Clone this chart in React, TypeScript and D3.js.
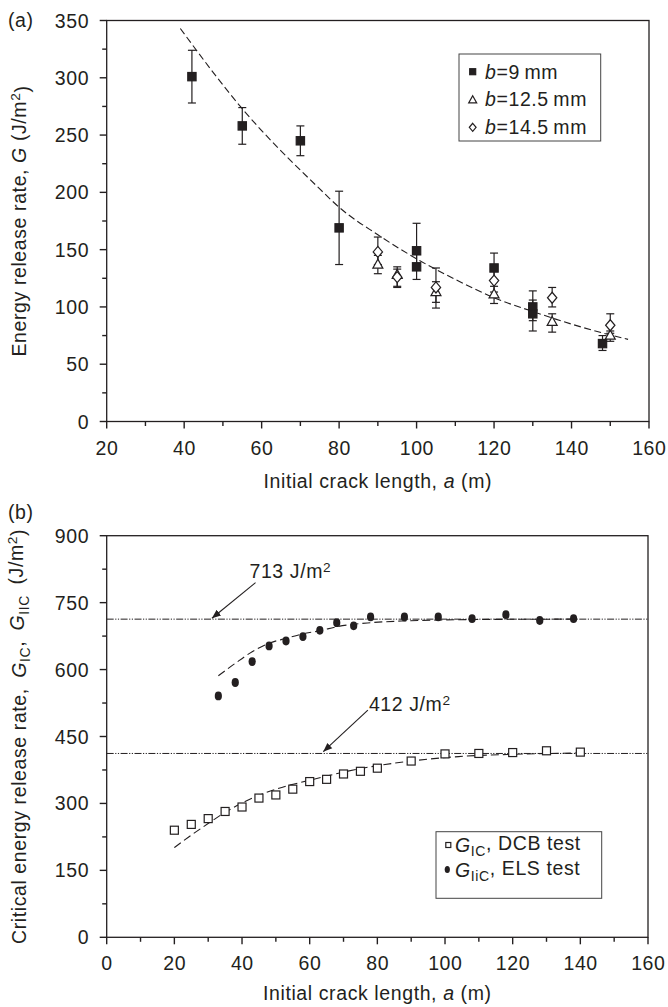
import React from 'react';
import * as d3 from 'd3';

const W = 668;
const H = 1007;
const FONT = "'Liberation Sans', Arial, Helvetica, sans-serif";
const INK = '#231f20';

// ---------- Panel (a) data ----------
const topXTicks = [20, 40, 60, 80, 100, 120, 140, 160];
const topYTicks = [0, 50, 100, 150, 200, 250, 300, 350];
// b = 9 mm (filled squares): a, G, low, high
const b9A = [42, 55, 70, 80, 100, 100, 120, 130, 130, 148];
const b9G = [301, 258, 245, 169, 149, 135, 134, 100, 94, 68];
const b9Lo = [278, 242, 232, 137, 136, 124, 122, 88, 79, 62];
const b9Hi = [324, 274, 258, 201, 173, 146, 147, 114, 106, 75];
// b = 12.5 mm (open triangles)
const b125A = [90, 95, 105, 120, 135, 150];
const b125G = [137, 128, 113, 111, 87, 75];
const b125Lo = [129, 117, 104, 103, 78, 70];
const b125Hi = [145, 135, 122, 118, 94, 79];
// b = 14.5 mm (open diamonds)
const b145A = [90, 95, 105, 120, 135, 150];
const b145G = [148, 126, 117, 123, 108, 84];
const b145Lo = [137, 118, 99, 113, 100, 77];
const b145Hi = [161, 133, 134, 133, 117, 94];
// fitted trend
const topFitA = [39, 55, 75, 80, 90, 100, 110, 120, 130, 140, 150, 154.6];
const topFitG = [343, 273, 203, 187, 163, 142, 124, 108, 96, 85, 75.5, 71.7];

// ---------- Panel (b) data ----------
const botXTicks = [0, 20, 40, 60, 80, 100, 120, 140, 160];
const botYTicks = [0, 150, 300, 450, 600, 750, 900];
const dcbA = [20, 25, 30, 35, 40, 45, 50, 55, 60, 65, 70, 75, 80, 90, 100, 110, 120, 130, 140];
const dcbG = [240, 253, 266, 282, 292, 312, 319, 332, 349, 354, 366, 372, 379, 395, 411, 412, 414, 418, 415];
const elsA = [33, 38, 43, 48, 53, 58, 63, 68, 73, 78, 88, 98, 108, 118, 128, 138];
const elsG = [541, 571, 618, 653, 664, 674, 688, 705, 698, 718, 718, 718, 714, 723, 710, 714];
const dcbFitA = [20, 25, 30, 35, 40, 50, 60, 75, 90, 104, 120, 139];
const dcbFitG = [201, 229, 255, 280, 301, 332, 352, 378, 395, 405, 410, 413];
const elsFitA = [33, 38, 43, 48, 53, 58, 63, 68, 78, 88, 98, 118, 138];
const elsFitG = [586, 614, 640, 659, 670, 680, 687, 696, 705, 709, 711, 712.6, 713];
const refLevels = [713, 412];
const refLabels = ['713 J/m', '412 J/m'];
// annotation anchors in data units: text start, arrow tail, arrow tip
const refTextA = [42.2, 77.5];
const refTextG = [805, 507];
const refTailA = [44.0, 77.2];
const refTailG = [795, 509];
const refTipA = [31.1, 64.0];
const refTipG = [715, 416];

// ---------- scales ----------
const xTop = d3.scaleLinear().domain([20, 160]).range([106.7, 649]);
const yTop = d3.scaleLinear().domain([0, 350]).range([421.5, 20.5]);
const xBot = d3.scaleLinear().domain([0, 160]).range([106.7, 648]);
const yBot = d3.scaleLinear().domain([0, 900]).range([937.3, 535.7]);

const FS = 19.5;
const LS = 0.6;

function Axes({ x, y, xTicks, yTicks, xMinor, yMinor }: any) {
  const [x0, x1] = x.range();
  const [y0, y1] = y.range();
  const xm = d3.range(x.domain()[0], x.domain()[1] + 0.001, xMinor);
  const ym = d3.range(y.domain()[0], y.domain()[1] + 0.001, yMinor);
  return (
    <g>
      <rect x={x0} y={y1} width={x1 - x0} height={y0 - y1} fill="none" stroke={INK} strokeWidth={1.3} />
      {xm.map((v: number) => (
        <line key={'xm' + v} x1={x(v)} x2={x(v)} y1={y0} y2={y0 + (xTicks.includes(v) ? 7 : 4.5)} stroke={INK} strokeWidth={1.4} />
      ))}
      {ym.map((v: number) => (
        <line key={'ym' + v} x1={x0} x2={x0 - (yTicks.includes(v) ? 7 : 4.5)} y1={y(v)} y2={y(v)} stroke={INK} strokeWidth={1.4} />
      ))}
      {xTicks.map((v: number) => (
        <text key={'xt' + v} x={x(v) + LS / 2} y={y0 + 33} textAnchor="middle" fontSize={FS} fill={INK}>{v}</text>
      ))}
      {yTicks.map((v: number) => (
        <text key={'yt' + v} x={88.5 + LS} y={y(v)} dy="0.36em" textAnchor="end" fontSize={FS} fill={INK}>{v}</text>
      ))}
    </g>
  );
}

function ErrBar({ x, lo, hi }: any) {
  return (
    <g stroke={INK} strokeWidth={1.2}>
      <line x1={x} x2={x} y1={lo} y2={hi} />
      <line x1={x - 4} x2={x + 4} y1={lo} y2={lo} />
      <line x1={x - 4} x2={x + 4} y1={hi} y2={hi} />
    </g>
  );
}

function Square({ x, y, s, filled }: any) {
  return <rect x={x - s / 2} y={y - s / 2} width={s} height={s} fill={filled ? INK : '#fff'} stroke={INK} strokeWidth={1.2} />;
}
function Tri({ x, y, s }: any) {
  const h = s * 0.9;
  return <path d={`M${x},${y - h * 0.6}L${x + s / 2},${y + h * 0.4}L${x - s / 2},${y + h * 0.4}Z`} fill="#fff" stroke={INK} strokeWidth={1.2} />;
}
function Diamond({ x, y, s }: any) {
  return <path d={`M${x},${y - s / 2}L${x + (s / 2) * 0.85},${y}L${x},${y + s / 2}L${x - (s / 2) * 0.85},${y}Z`} fill="#fff" stroke={INK} strokeWidth={1.2} />;
}

export default function App() {
  const topLine = d3.line<number>().x((_, i) => xTop(topFitA[i])).y((d) => yTop(d)).curve(d3.curveMonotoneX);
  const dcbLine = d3.line<number>().x((_, i) => xBot(dcbFitA[i])).y((d) => yBot(d)).curve(d3.curveMonotoneX);
  const elsLine = d3.line<number>().x((_, i) => xBot(elsFitA[i])).y((d) => yBot(d)).curve(d3.curveMonotoneX);

  return (
    <svg width={W} height={H} style={{ position: 'absolute', left: 0, top: 0, background: '#fff' }} fontFamily={FONT} letterSpacing={LS}>
      <defs>
        <marker id="arr" viewBox="0 0 10 10" refX="10" refY="5" markerWidth="9" markerHeight="9" orient="auto" markerUnits="userSpaceOnUse">
          <path d="M0,1L10,5L0,9Z" fill={INK} />
        </marker>
      </defs>
      <rect x={0} y={0} width={W} height={H} fill="#fff" />

      {/* ---------------- Panel (a) ---------------- */}
      <text x={8} y={27} fontSize={FS} fill={INK}>(a)</text>
      <Axes x={xTop} y={yTop} xTicks={topXTicks} yTicks={topYTicks} xMinor={10} yMinor={25} />
      <path d={topLine(topFitG) || ''} fill="none" stroke={INK} strokeWidth={1.1} strokeDasharray="7,3.5" />
      {b9A.map((a, i) => (
        <ErrBar key={'e9' + i} x={xTop(a)} lo={yTop(b9Lo[i])} hi={yTop(b9Hi[i])} />
      ))}
      {b125A.map((a, i) => (
        <ErrBar key={'e12' + i} x={xTop(a)} lo={yTop(b125Lo[i])} hi={yTop(b125Hi[i])} />
      ))}
      {b145A.map((a, i) => (
        <ErrBar key={'e14' + i} x={xTop(a)} lo={yTop(b145Lo[i])} hi={yTop(b145Hi[i])} />
      ))}
      {b125A.map((a, i) => (
        <Tri key={'t' + i} x={xTop(a)} y={yTop(b125G[i])} s={10} />
      ))}
      {b145A.map((a, i) => (
        <Diamond key={'d' + i} x={xTop(a)} y={yTop(b145G[i])} s={11} />
      ))}
      {b9A.map((a, i) => (
        <Square key={'s' + i} x={xTop(a)} y={yTop(b9G[i])} s={8.3} filled />
      ))}
      {/* legend (a) */}
      <rect x={459} y={54} width={141.7} height={87} fill="#fff" stroke="#444" strokeWidth={1} />
      <Square x={472.7} y={71.7} s={6} filled />
      <Tri x={472.7} y={100} s={8} />
      <Diamond x={472.7} y={127.3} s={8} />
      {['9', '12.5', '14.5'].map((t, i) => (
        <text key={'lg' + i} x={485} y={[71.7, 99.3, 127.3][i]} dy="0.36em" fontSize={FS} fill={INK}>
          <tspan fontStyle="italic">b</tspan>={t}{'\u2009'}mm
        </text>
      ))}
      <text x={xTop(90)} y={488} textAnchor="middle" fontSize={FS} fill={INK}>
        Initial crack length, <tspan fontStyle="italic">a</tspan> (m)
      </text>
      <text transform={`translate(26,${(yTop(0) + yTop(350)) / 2}) rotate(-90)`} textAnchor="middle" fontSize={FS} fill={INK}>
        Energy release rate, <tspan fontStyle="italic">G</tspan> (J/m<tspan dy="-0.45em" fontSize="0.7em">2</tspan><tspan dy="0.45em">)</tspan>
      </text>

      {/* ---------------- Panel (b) ---------------- */}
      <text x={8} y={519} fontSize={FS} fill={INK}>(b)</text>
      <Axes x={xBot} y={yBot} xTicks={botXTicks} yTicks={botYTicks} xMinor={10} yMinor={75} />
      {refLevels.map((v, i) => (
        <line key={'ref' + i} x1={xBot(0)} x2={xBot(160)} y1={yBot(v)} y2={yBot(v)} stroke={INK} strokeWidth={1} strokeDasharray="7,1.5,1.2,1.5,1.2,1.5" />
      ))}
      <path d={dcbLine(dcbFitG) || ''} fill="none" stroke={INK} strokeWidth={1.1} strokeDasharray="8,4" />
      <path d={elsLine(elsFitG) || ''} fill="none" stroke={INK} strokeWidth={1.1} strokeDasharray="8,4" />
      {dcbA.map((a, i) => (
        <Square key={'dc' + i} x={xBot(a)} y={yBot(dcbG[i])} s={8} filled={false} />
      ))}
      {elsA.map((a, i) => (
        <ellipse key={'el' + i} cx={xBot(a)} cy={yBot(elsG[i])} rx={3.6} ry={4.4} fill={INK} />
      ))}
      {refLevels.map((v, i) => (
        <g key={'ann' + i}>
          <line x1={xBot(refTailA[i])} y1={yBot(refTailG[i])} x2={xBot(refTipA[i])} y2={yBot(refTipG[i])} stroke={INK} strokeWidth={1.1} markerEnd="url(#arr)" />
          <text x={xBot(refTextA[i])} y={yBot(refTextG[i])} fontSize={FS} fill={INK}>
            {refLabels[i]}<tspan dy="-0.45em" fontSize="0.7em">2</tspan>
          </text>
        </g>
      ))}
      {/* legend (b) */}
      <rect x={436} y={831.7} width={165.7} height={66.6} fill="#fff" stroke="#444" strokeWidth={1} />
      <Square x={448.3} y={845} s={5} filled={false} />
      <ellipse cx={447.3} cy={869.5} rx={2.6} ry={3.5} fill={INK} />
      <text x={455} y={845} dy="0.36em" fontSize={FS} fill={INK}>
        <tspan fontStyle="italic">G</tspan><tspan dy="0.3em" fontSize="0.72em">IC</tspan><tspan dy="-0.3em">, DCB test</tspan>
      </text>
      <text x={455} y={869.5} dy="0.36em" fontSize={FS} fill={INK}>
        <tspan fontStyle="italic">G</tspan><tspan dy="0.3em" fontSize="0.72em">IiC</tspan><tspan dy="-0.3em">, ELS test</tspan>
      </text>
      <text x={xBot(80)} y={1000} textAnchor="middle" fontSize={FS} fill={INK}>
        Initial crack length, <tspan fontStyle="italic">a</tspan> (m)
      </text>
      <text transform={`translate(26,${(yBot(0) + yBot(900)) / 2}) rotate(-90)`} textAnchor="middle" fontSize={FS} fill={INK}>
        Critical energy release rate,{'\u2002'}<tspan fontStyle="italic">G</tspan><tspan dy="0.3em" fontSize="0.72em">IC</tspan><tspan dy="-0.3em">,{'\u2002'}</tspan><tspan fontStyle="italic">G</tspan><tspan dy="0.3em" fontSize="0.72em">IIC</tspan><tspan dy="-0.3em">{'\u2002'}(J/m</tspan><tspan dy="-0.45em" fontSize="0.7em">2</tspan><tspan dy="0.45em">)</tspan>
      </text>
    </svg>
  );
}
